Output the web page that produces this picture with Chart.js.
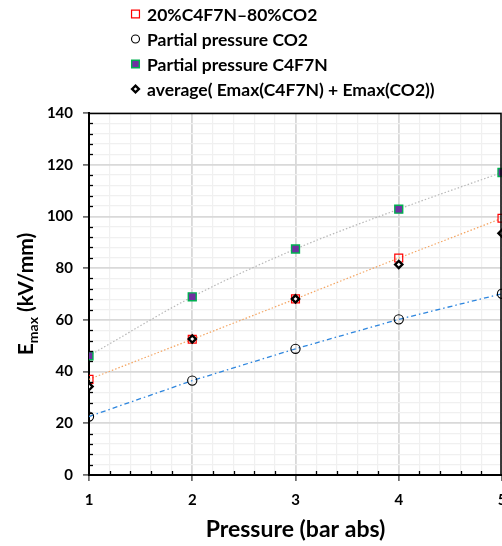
<!DOCTYPE html>
<html>
<head>
<meta charset="utf-8">
<script src="https://cdn.jsdelivr.net/npm/chart.js@4.4.1/dist/chart.umd.min.js"></script>
<style>
  html, body { margin: 0; padding: 0; background: #fff; }
  #wrap { position: relative; width: 502px; height: 546px; }
</style>
</head>
<body>
<div id="wrap"><canvas id="c" width="502" height="546"></canvas></div>
<script>
const pressure = [1, 2, 3, 4, 5];
const mixE = [37, 52.5, 68.1, 83.9, 99.3];
const co2E = [22.6, 36.5, 48.8, 60.2, 70.1];
const c4f7nE = [46.1, 68.9, 87.4, 102.8, 117];
const avgE = [34.2, 52.6, 68.1, 81.4, 93.5];

const legendLabels = ['20%C4F7N\u201380%CO2', 'Partial pressure CO2', 'Partial pressure C4F7N', 'average( Emax(C4F7N) + Emax(CO2))'];
const xTitle = 'Pressure (bar abs)';
const yTitleMain = 'E';
const yTitleSub = 'max';
const yTitleRest = ' (kV/mm)';
const xTicks = [1, 2, 3, 4, 5];
const yTicks = [0, 20, 40, 60, 80, 100, 120, 140];

const FONT = 'Lato';

function pts(ys) { return pressure.map((x, i) => ({ x: x, y: ys[i] })); }
function isMajorX(v) { return xTicks.some(t => Math.abs(t - v) < 1e-6); }
function isMajorY(v) { return yTicks.some(t => Math.abs(t - v) < 1e-6); }

const datasets = [
  { label: legendLabels[0], data: pts(mixE), showLine: true, borderColor: '#F4A460', borderWidth: 1.2, borderDash: [1.5, 2],
    pointStyle: 'rect', pointRadius: 5.6, pointBorderColor: '#FF0000', pointBackgroundColor: 'rgba(255,255,255,0)', pointBorderWidth: 1.2, order: 3,
    legendStyle: 'rect', legendR: 5.6 },
  { label: legendLabels[1], data: pts(co2E), showLine: true, borderColor: '#2E86DE', borderWidth: 1.3, borderDash: [5, 3, 1.5, 3],
    pointStyle: 'circle', pointRadius: 4.6, pointBorderColor: '#000000', pointBackgroundColor: 'rgba(255,255,255,0)', pointBorderWidth: 1.1, order: 4,
    legendStyle: 'circle', legendR: 4 },
  { label: legendLabels[2], data: pts(c4f7nE), showLine: true, cubicInterpolationMode: 'monotone', borderColor: '#B8B8B8', borderWidth: 1.2, borderDash: [1.5, 2],
    pointStyle: 'rect', pointRadius: 5.6, pointBorderColor: '#00B050', pointBackgroundColor: '#7030A0', pointBorderWidth: 1.4, order: 2,
    legendStyle: 'rect', legendR: 5.4 },
  { label: legendLabels[3], data: pts(avgE), showLine: false,
    pointStyle: 'rectRot', pointRadius: 3.6, pointBorderColor: '#000000', pointBackgroundColor: '#FFFFFF', pointBorderWidth: 2.4, order: 1,
    legendStyle: 'rectRot', legendR: 3.4 }
];

const decorPlugin = {
  id: 'decor',
  afterDraw(chart) {
    const ctx = chart.ctx;
    const a = chart.chartArea;
    const xs = chart.scales.x, ys = chart.scales.y;
    ctx.save();
    // inside minor ticks
    ctx.strokeStyle = '#000';
    ctx.lineWidth = 1.3;
    ys.ticks.forEach(t => {
      if (!isMajorY(t.value)) {
        const p = Math.round(ys.getPixelForValue(t.value)) + 0.5;
        ctx.beginPath(); ctx.moveTo(a.left, p); ctx.lineTo(a.left + 4, p); ctx.stroke();
      }
    });
    xs.ticks.forEach(t => {
      if (!isMajorX(t.value)) {
        const p = Math.round(xs.getPixelForValue(t.value)) + 0.5;
        ctx.beginPath(); ctx.moveTo(p, a.bottom); ctx.lineTo(p, a.bottom - 4); ctx.stroke();
      }
    });
    // top & right border
    ctx.lineWidth = 1.5;
    ctx.beginPath();
    ctx.moveTo(a.left, a.top + 0.5); ctx.lineTo(a.right - 1, a.top + 0.5); ctx.lineTo(a.right - 1, a.bottom);
    ctx.stroke();

    // y title (rotated, with subscript)
    ctx.fillStyle = '#000';
    ctx.textBaseline = 'alphabetic';
    ctx.textAlign = 'left';
    const fMain = 'bold 21px ' + FONT, fSub = 'bold 14px ' + FONT;
    ctx.font = fMain; const wE = ctx.measureText(yTitleMain).width; const wR = ctx.measureText(yTitleRest).width;
    ctx.font = fSub; const wS = ctx.measureText(yTitleSub).width;
    const total = wE + wS + wR;
    const cy = (a.top + a.bottom) / 2;
    ctx.translate(33, cy + total / 2);
    ctx.rotate(-Math.PI / 2);
    ctx.font = fMain; ctx.fillText(yTitleMain, 0, 0);
    ctx.font = fSub; ctx.fillText(yTitleSub, wE, 5);
    ctx.font = fMain; ctx.fillText(yTitleRest, wE + wS, 0);
    ctx.setTransform(1, 0, 0, 1, 0, 0);

    // x title
    ctx.font = 'bold 23px ' + FONT;
    ctx.textAlign = 'center';
    ctx.fillText(xTitle, (a.left + a.right) / 2, 537);

    // legend
    const rows = [14, 39, 64, 89];
    ctx.textAlign = 'left';
    ctx.textBaseline = 'middle';
    chart.data.datasets.forEach((ds, i) => {
      ctx.save();
      ctx.strokeStyle = ds.pointBorderColor;
      ctx.fillStyle = ds.pointBackgroundColor;
      ctx.lineWidth = ds.pointBorderWidth;
      Chart.helpers.drawPoint(ctx, { pointStyle: ds.legendStyle, radius: ds.legendR, borderWidth: ds.pointBorderWidth, rotation: 0 }, 135.5, rows[i]);
      ctx.restore();
      ctx.fillStyle = '#000';
      ctx.font = 'bold 17.5px ' + FONT;
      ctx.fillText(ds.label, 147, rows[i] + 1);
    });
    ctx.restore();
  }
};

new Chart(document.getElementById('c'), {
  type: 'scatter',
  data: { datasets: datasets },
  options: {
    responsive: false,
    animation: false,
    events: [],
    layout: { autoPadding: false, padding: { top: 113, right: 0, left: 0, bottom: 0 } },
    plugins: { legend: { display: false }, tooltip: { enabled: false } },
    scales: {
      x: {
        type: 'linear', min: 1, max: 5,
        afterFit(s) { s.height = 546 - 475; s.paddingLeft = 0; s.paddingRight = 0; },
        ticks: {
          stepSize: 0.2, autoSkip: false, maxRotation: 0, padding: 10,
          color: '#000', font: { family: FONT, weight: 'bold', size: 15 },
          callback(v) { return isMajorX(v) ? String(Math.round(v)) : ''; }
        },
        grid: {
          tickLength: 6,
          color(c) { return c.tick && isMajorX(c.tick.value) ? '#D9D9D9' : '#F0F0F0'; },
          lineWidth(c) { return c.tick && isMajorX(c.tick.value) ? 1.8 : 1.2; },
          tickColor(c) { return c.tick && isMajorX(c.tick.value) ? '#555' : 'rgba(0,0,0,0)'; },
          tickWidth: 1.5
        },
        border: { color: '#000', width: 2 }
      },
      y: {
        type: 'linear', min: 0, max: 140,
        afterFit(s) { s.width = 89; s.paddingTop = 0; s.paddingBottom = 0; },
        ticks: {
          stepSize: 4, autoSkip: false, padding: 10,
          color: '#000', font: { family: FONT, weight: 'bold', size: 15 },
          callback(v) { return isMajorY(v) ? String(Math.round(v)) : ''; }
        },
        grid: {
          tickLength: 6,
          color(c) { return c.tick && isMajorY(c.tick.value) ? '#D9D9D9' : '#F0F0F0'; },
          lineWidth(c) { return c.tick && isMajorY(c.tick.value) ? 1.8 : 1.2; },
          tickColor(c) { return c.tick && isMajorY(c.tick.value) ? '#555' : 'rgba(0,0,0,0)'; },
          tickWidth: 1.5
        },
        border: { color: '#000', width: 2 }
      }
    }
  },
  plugins: [decorPlugin]
});
</script>
</body>
</html>
